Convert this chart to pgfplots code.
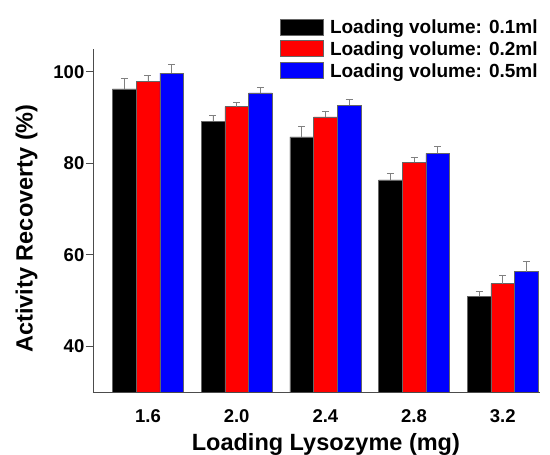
\documentclass[border=0pt]{standalone}
\usepackage{fontspec}
\setmainfont{Liberation Sans}
\usepackage{pgfplots}
\pgfplotsset{compat=1.18}
\pgfplotsset{biglegend/.style={legend image code/.code={\draw[##1,draw=black!60,line width=0.5pt] (0pt,-1pt) rectangle (43pt,15pt);}}}
\begin{document}
\begin{tikzpicture}
\useasboundingbox (-93pt,-63pt) rectangle (457pt,392pt);
\begin{axis}[
  at={(0pt,0pt)}, anchor=south west,
  scale only axis, width=447pt, height=343pt,
  xmin=-0.62, xmax=4.42, ymin=30, ymax=105,
  axis x line*=bottom, axis y line*=left,
  axis line style={black!70, line width=0.8pt},
  ybar=0pt, bar width=0.267,
  xtick={0,1,2,3,4}, xticklabels={1.6,2.0,2.4,2.8,3.2},
  ytick={40,60,80,100},
  xtick style={draw=none},
  ytick style={black!70, line width=0.8pt},
  tick align=outside, major tick length=7pt,
  /pgf/number format/assume math mode=true,
  ticklabel style={font=\bfseries\fontsize{18.5}{20}\selectfont},
  xticklabel style={anchor=base, yshift=-23.7pt},
  yticklabel style={anchor=east, inner xsep=1.5pt},
  xlabel={Loading Lysozyme (mg)},
  ylabel={Activity Recoverty (\%)},
  label style={font=\bfseries\fontsize{23.5}{26}\selectfont},
  xlabel style={at={(axis description cs:0.521,-0.172)}, anchor=base},
  ylabel style={at={(axis description cs:-0.1349,0.477)}, anchor=base},
  legend style={at={(axis description cs:0.4168,1.0895)}, anchor=north west,
    draw=none, fill=none, inner sep=0pt, row sep=5.2pt, column sep=7pt,
    nodes={inner sep=0pt, anchor=base west},
    font=\bfseries\fontsize{19}{22}\selectfont},
  legend cell align=left,
  error bars/y dir=plus, error bars/y explicit,
  error bars/error bar style={gray, line width=0.8pt},
  error bars/error mark options={rotate=90, mark size=3.5pt, gray, line width=0.8pt},
]
\addplot[fill=black, draw=black!60, line width=0.5pt, biglegend] coordinates {
  (0,96.3) +- (0,2.2) (1,89.2) +- (0,1.2) (2,85.8) +- (0,2.2) (3,76.4) +- (0,1.4) (4,50.9) +- (0,1.1)};
\addplot[fill=red, draw=black!60, line width=0.5pt, biglegend] coordinates {
  (0,98.0) +- (0,1.2) (1,92.4) +- (0,1.0) (2,90.15) +- (0,1.3) (3,80.2) +- (0,1.2) (4,53.7) +- (0,1.7)};
\addplot[fill=blue, draw=black!60, line width=0.5pt, biglegend] coordinates {
  (0,99.7) +- (0,1.9) (1,95.4) +- (0,1.2) (2,92.7) +- (0,1.2) (3,82.2) +- (0,1.5) (4,56.3) +- (0,2.3)};
\legend{Loading volume: 0.1ml, Loading volume: 0.2ml, Loading volume: 0.5ml}
\end{axis}
\end{tikzpicture}
\end{document}
